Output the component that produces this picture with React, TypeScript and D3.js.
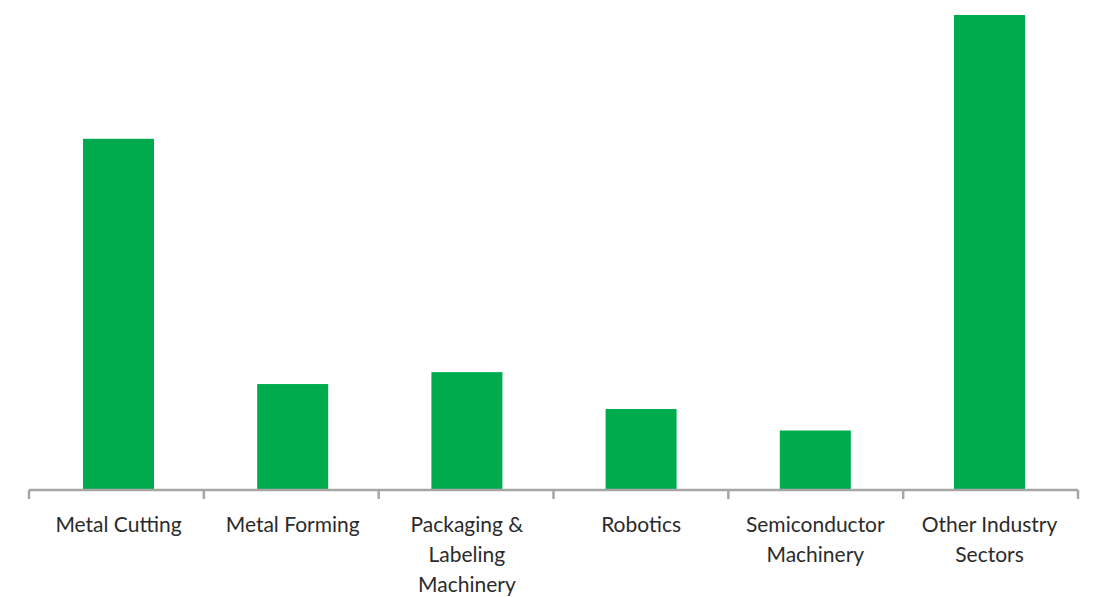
import React from "react";
import * as d3 from "d3";

const categories: string[][] = [
  ["Metal Cutting"],
  ["Metal Forming"],
  ["Packaging &", "Labeling", "Machinery"],
  ["Robotics"],
  ["Semiconductor", "Machinery"],
  ["Other Industry", "Sectors"],
];
const values: number[] = [29.5, 8.9, 9.9, 6.8, 5.0, 39.9];

const W = 1095;
const H = 597;

export default function App() {
  const idx = d3.range(categories.length);
  const xTick = d3.scaleBand<number>().domain(idx).range([29, 1078]).padding(0);
  const x = d3.scaleBand<number>().domain(idx).range([31.4, 1076.6]).padding(0);
  const y = d3.scaleLinear().domain([0, 39.9]).range([490, 15]);
  const barW = 71;
  const green = "#00AB4E";
  const axisColor = "#A6A6A6";
  const bounds = [...idx.map((i) => xTick(i)!), 1078];
  return (
    <svg
      width={W}
      height={H}
      style={{ position: "absolute", left: 0, top: 0 }}
      fontFamily="Lato, 'Noto Sans', sans-serif"
    >
      {values.map((v, i) => {
        const cx = x(i)! + x.bandwidth() / 2;
        return (
          <rect
            key={i}
            x={cx - barW / 2}
            y={y(v)}
            width={barW}
            height={y(0) - y(v)}
            fill={green}
          />
        );
      })}
      <line x1={29} x2={1078} y1={490} y2={490} stroke={axisColor} strokeWidth={2.5} />
      {bounds.map((b, i) => (
        <line key={i} x1={b} x2={b} y1={490} y2={499} stroke={axisColor} strokeWidth={2.5} />
      ))}
      {categories.map((lines, i) => {
        const cx = x(i)! + x.bandwidth() / 2;
        return (
          <text key={i} x={cx} y={532} textAnchor="middle" fontSize={21} fill="#2b2b2b">
            {lines.map((l, j) => (
              <tspan key={j} x={cx} dy={j === 0 ? 0 : 30}>
                {l}
              </tspan>
            ))}
          </text>
        );
      })}
    </svg>
  );
}
